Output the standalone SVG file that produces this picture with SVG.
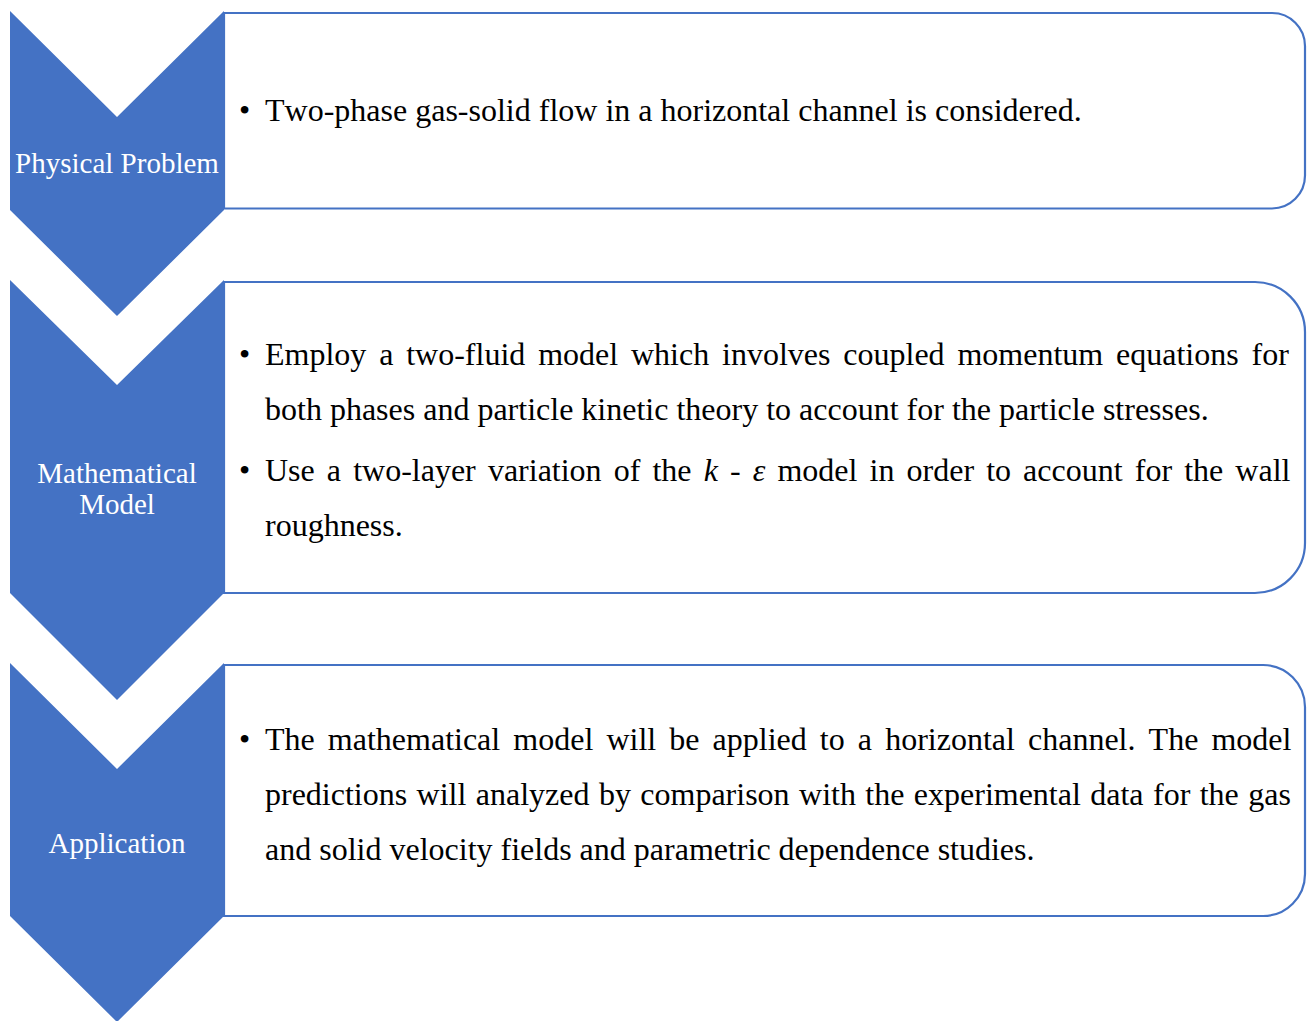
<svg xmlns="http://www.w3.org/2000/svg" width="1307" height="1021" viewBox="0 0 1307 1021">
<style>
.box{fill:#ffffff;stroke:#4472C4;stroke-width:2.2}
.chev{fill:#4472C4}
.lbl{font-family:"Liberation Serif","Times New Roman",serif;font-size:29px;fill:#ffffff;text-anchor:middle;font-kerning:none}
.body{font-family:"Liberation Serif","Times New Roman",serif;font-size:32px;fill:#000000;font-kerning:none}
.it{font-style:italic}
</style>
<rect width="1307" height="1021" fill="#ffffff"/>
<g id="box1">
<path class="box" d="M224,13 H1272 A33,33 0 0 1 1305,46 V175.5 A33,33 0 0 1 1272,208.5 H224 Z"/>
<text class="body" x="239" y="121">•</text>
<text class="body" x="265" y="121">Two-phase gas-solid flow in a horizontal channel is considered.</text>
</g>
<g id="box2">
<path class="box" d="M224,282 H1255 A50,50 0 0 1 1305,332 V543 A50,50 0 0 1 1255,593 H224 Z"/>
<text class="body" x="239" y="365">•</text>
<text class="body" x="265" y="365" word-spacing="4.84">Employ a two-fluid model which involves coupled momentum equations for</text>
<text class="body" x="265" y="420">both phases and particle kinetic theory to account for the particle stresses.</text>
<text class="body" x="239" y="481">•</text>
<text class="body" x="265" y="481" word-spacing="4.1">Use a two-layer variation of the <tspan class="it">k</tspan> - <tspan class="it">ε</tspan> model in order to account for the wall</text>
<text class="body" x="265" y="536">roughness.</text>
</g>
<g id="box3">
<path class="box" d="M224,665 H1263 A42,42 0 0 1 1305,707 V874 A42,42 0 0 1 1263,916 H224 Z"/>
<text class="body" x="239" y="750">•</text>
<text class="body" x="265" y="750" word-spacing="5.1">The mathematical model will be applied to a horizontal channel. The model</text>
<text class="body" x="265" y="805" word-spacing="1.41">predictions will analyzed by comparison with the experimental data for the gas</text>
<text class="body" x="265" y="860">and solid velocity fields and parametric dependence studies.</text>
</g>
<g id="chevron1">
<path class="chev" d="M10,11 L117,117 L224,11 L224,210 L117,316 L10,210 Z"/>
<text class="lbl" x="117" y="173">Physical Problem</text>
</g>
<g id="chevron2">
<path class="chev" d="M10,280 L117,385 L224,280 L224,593 L117,700 L10,593 Z"/>
<text class="lbl" x="117" y="483">Mathematical</text>
<text class="lbl" x="117" y="514">Model</text>
</g>
<g id="chevron3">
<path class="chev" d="M10,663 L117,769 L224,663 L224,916 L117,1022 L10,916 Z"/>
<text class="lbl" x="117" y="853">Application</text>
</g>
<g id="connectors"></g>
</svg>
